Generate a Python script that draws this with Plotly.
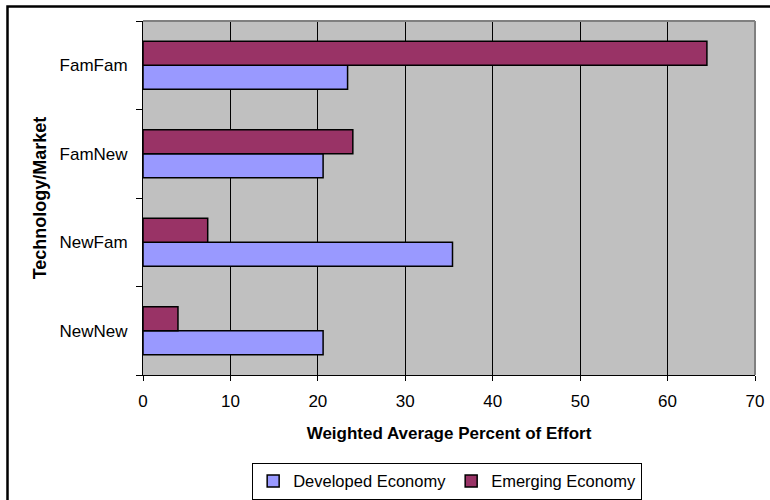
import plotly.graph_objects as go

categories = ["NewNew", "NewFam", "FamNew", "FamFam"]
developed = [20.6, 35.4, 20.6, 23.4]
emerging = [4.0, 7.4, 24.0, 64.5]
x_ticks = [0, 10, 20, 30, 40, 50, 60, 70]

FONT = "Liberation Sans, Arial, sans-serif"

fig = go.Figure()
fig.add_trace(go.Bar(
    y=categories, x=developed, orientation="h", name="Developed Economy",
    marker=dict(color="#9999FF", line=dict(color="black", width=1.5)),
))
fig.add_trace(go.Bar(
    y=categories, x=emerging, orientation="h", name="Emerging Economy",
    marker=dict(color="#993366", line=dict(color="black", width=1.5)),
))

fig.update_layout(
    width=770, height=500,
    margin=dict(l=143, r=15, t=21, b=125, autoexpand=False),
    paper_bgcolor="white", plot_bgcolor="#C0C0C0",
    barmode="group", bargap=0.46, bargroupgap=0,
    font=dict(family=FONT, size=17, color="black"),
    showlegend=True,
    legend=dict(
        orientation="h", x=0.497, xanchor="center", y=-0.30, yanchor="middle",
        bordercolor="black", borderwidth=1, bgcolor="white",
        font=dict(family=FONT, size=16.5, color="black"),
        traceorder="normal", itemwidth=30,
    ),
    xaxis=dict(
        range=[0, 70], tickvals=x_ticks, ticktext=[str(v) for v in x_ticks],
        showgrid=True, gridcolor="black", gridwidth=1,
        showline=True, linecolor="black", linewidth=1,
        ticks="outside", ticklen=5, tickcolor="black",
        zeroline=False, tickfont=dict(size=17), ticklabelstandoff=6,
        automargin=False,
        title=dict(text="<b>Weighted Average Percent of Effort</b>",
                   font=dict(family=FONT, size=17), standoff=16),
        fixedrange=True,
    ),
    yaxis=dict(
        type="category", categoryorder="array", categoryarray=categories,
        showgrid=False, showline=True, linecolor="black", linewidth=1,
        ticks="outside", ticklen=6, tickcolor="black", tickson="boundaries",
        tickfont=dict(size=17), ticklabelstandoff=11, automargin=False,
        title=dict(text="<b>Technology/Market</b>",
                   font=dict(family=FONT, size=18), standoff=8),
        fixedrange=True,
    ),
    shapes=[
        dict(type="line", xref="paper", yref="paper", x0=0, x1=1, y0=1, y1=1,
             line=dict(color="#808080", width=2), layer="above"),
        dict(type="line", xref="paper", yref="paper", x0=1, x1=1, y0=0, y1=1,
             line=dict(color="#808080", width=2), layer="above"),
        dict(type="rect", xref="paper", yref="paper",
             x0=(7.5 - 143) / 612, x1=1.2, y0=-0.5, y1=(375 - 6.5) / 354,
             line=dict(color="black", width=2.5), layer="above"),
    ],
)

fig.write_html("out.html")
